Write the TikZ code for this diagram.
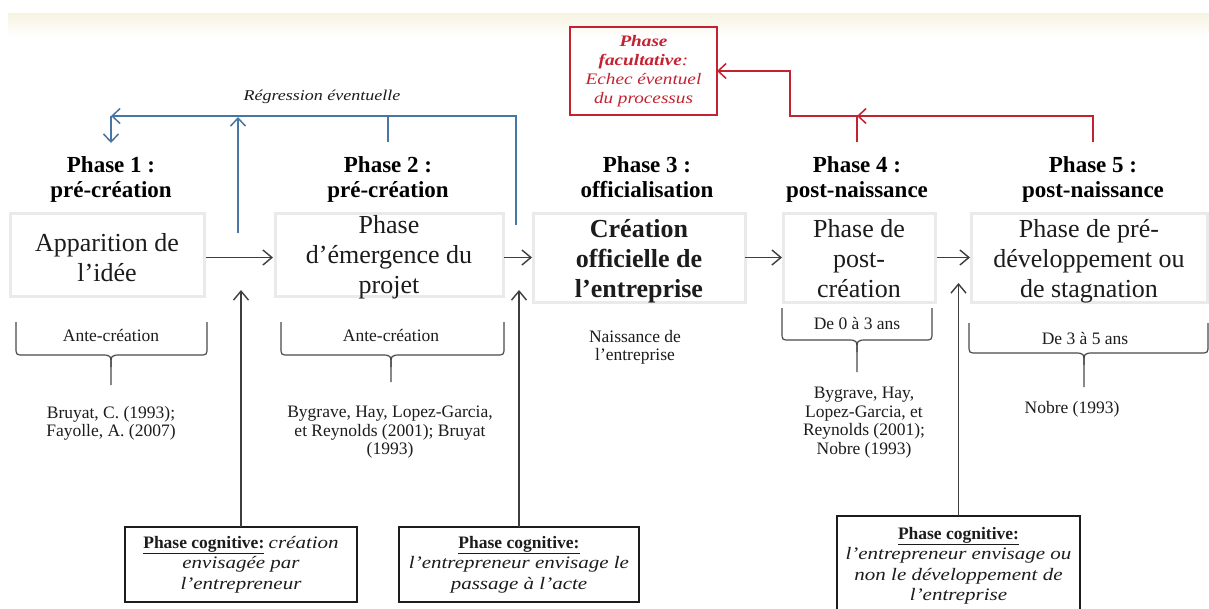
\documentclass[tikz,border=0pt]{standalone}
\usepackage{fontspec}
\setmainfont{Liberation Serif}
\newfontfamily\wideserif[FakeStretch=1.2]{Liberation Serif}
\usetikzlibrary{arrows.meta}

\definecolor{bandcream}{RGB}{247,242,226}
\definecolor{boxgray}{RGB}{234,234,234}
\definecolor{regblue}{RGB}{72,118,164}
\definecolor{failred}{RGB}{196,34,48}
\definecolor{ink}{RGB}{28,28,28}

% open curly bracket under a stage: left x, right x, top y, bar y, centre x, tip y
\newcommand\underbrk[6]{%
  \draw[brk] (#1,#3) -- (#1,{#4-8}) .. controls (#1,#4) .. ({#1+8},#4)
    -- ({#5-10},#4) .. controls (#5,#4) .. (#5,{#4+12}) -- (#5,#6);
  \draw[brk] (#2,#3) -- (#2,{#4-8}) .. controls (#2,#4) .. ({#2-8},#4)
    -- ({#5+10},#4) .. controls (#5,#4) .. (#5,{#4+12});
}

\begin{document}
\begin{tikzpicture}[x=1pt,y=-1pt,
  every node/.style={inner sep=0pt,outer sep=0pt,text=ink},
  phasehead/.style={font=\fontsize{23}{25}\selectfont\bfseries,align=center,text=black},
  stagebox/.style={draw=boxgray,line width=3pt},
  stagetext/.style={align=center,font=\fontsize{26}{30}\selectfont},
  smalltxt/.style={font=\fontsize{17.5}{18.5}\selectfont,align=center},
  bracetxt/.style={font=\fontsize{17.5}{19}\selectfont,align=center},
  cogbox/.style={draw=ink,line width=1.6pt,align=center,
    font=\fontsize{17.5}{20.5}\selectfont},
  flow/.style={draw=ink!85,line width=1.4pt,-{Straight Barb[length=9pt,width=15pt,line width=1.4pt]}},
  brk/.style={draw=ink!80,line width=1.2pt},
  regline/.style={draw=regblue,line width=1.5pt},
  regarrow/.style={regline,-{Straight Barb[length=8pt,width=15pt,line width=1.5pt]}},
  failline/.style={draw=failred,line width=1.5pt},
  failarrow/.style={failline,-{Straight Barb[length=8pt,width=15pt,line width=1.5pt]}}]

\useasboundingbox (0,0) rectangle (1209,608);
\clip (0,0) rectangle (1209,608);
\fill[white] (0,0) rectangle (1209,608);
\shade[top color=bandcream,bottom color=white] (8,13) rectangle (1209,37);

% optional failure phase
\node[draw=failred,line width=1.5pt,minimum width=147pt,minimum height=88pt,
  align=center,text=failred,font=\wideserif\fontsize{16}{19}\selectfont\itshape]
  (fail) at (643.5,71)
  {\strut\textbf{Phase}\\\textbf{facultative}:\\Echec éventuel\\du processus\strut};

% phase headings
\node[phasehead] (h1) at (111,180) {\strut Phase 1 :\\pré-création\strut};
\node[phasehead] (h2) at (388,180) {\strut Phase 2 :\\pré-création\strut};
\node[phasehead] (h3) at (647,180) {\strut Phase 3 :\\officialisation\strut};
\node[phasehead] (h4) at (857,180) {\strut Phase 4 :\\post-naissance\strut};
\node[phasehead] (h5) at (1093,180) {\strut Phase 5 :\\post-naissance\strut};

% stage boxes
\node[stagebox,minimum width=194pt,minimum height=83pt] (b1) at (107,254.5) {};
\node[stagebox,minimum width=228pt,minimum height=83pt] (b2) at (389,254.5) {};
\node[stagebox,minimum width=212pt,minimum height=89pt] (b3) at (639,257.5) {};
\node[stagebox,minimum width=152pt,minimum height=89pt] (b4) at (859,257.5) {};
\node[stagebox,minimum width=236pt,minimum height=89pt] (b5) at (1089,257.5) {};
\node[stagetext] (b1t) at (107,260.5) {\strut Apparition de\\l’idée\strut};
\node[stagetext] (b2t) at (389,257.5) {\strut Phase\\d’émergence du\\projet\strut};
\node[stagetext,font=\fontsize{26}{30}\selectfont\bfseries] (b3t) at (639,261.5)
  {\strut Création\\officielle de\\l’entreprise\strut};
\node[stagetext] (b4t) at (859,261.5) {\strut Phase de\\post-\\création\strut};
\node[stagetext] (b5t) at (1089,261.5) {\strut Phase de pré-\\développement ou\\de stagnation\strut};

% sequence of stages
\draw[flow] ([xshift=2pt]b1.east |- b3.west) -- ([xshift=-2pt]b2.west |- b3.west);
\draw[flow] ([xshift=1pt]b2.east |- b3.west) -- ([xshift=-1pt]b3.west);
\draw[flow] (b3.east) -- ([xshift=-1pt]b4.west);
\draw[flow] ([xshift=2pt]b4.east) -- ([xshift=-1pt]b5.west);

% brackets and their labels
\underbrk{16}{207}{322}{355}{111}{385}
\underbrk{281}{504}{322}{355}{391}{382}
\underbrk{782}{932}{308}{340}{857}{372}
\underbrk{969}{1208}{323}{353}{1084}{387}
\node[bracetxt] (t1) at (111,335) {Ante-création};
\node[bracetxt] (t2) at (391,335) {Ante-création};
\node[bracetxt] (t4) at (857,323) {De 0 à 3 ans};
\node[bracetxt] (t5) at (1085,338) {De 3 à 5 ans};

% references
\node[smalltxt] (r1) at (111,424) {\strut Bruyat, C. (1993);\\Fayolle, A. (2007)\strut};
\node[smalltxt] (r2) at (390,432.5) {\strut Bygrave, Hay, Lopez-Garcia,\\et Reynolds (2001); Bruyat\\(1993)\strut};
\node[smalltxt] (r3) at (635,348) {\strut Naissance de\\l’entreprise\strut};
\node[smalltxt] (r4) at (864,423) {\strut Bygrave, Hay,\\Lopez-Garcia, et\\Reynolds (2001);\\Nobre (1993)\strut};
\node[smalltxt] (r5) at (1072,409) {Nobre (1993)};

% cognitive phases
\node[cogbox,minimum width=232pt,minimum height=75pt] (c1) at (241,564.5)
  {\strut\underline{\textbf{Phase cognitive:}} {\wideserif\itshape création}\\
   {\wideserif\itshape envisagée par}\\{\wideserif\itshape l’entrepreneur}\strut};
\node[cogbox,minimum width=240pt,minimum height=75pt] (c2) at (519,564.5)
  {\strut\underline{\textbf{Phase cognitive:}}\\
   {\wideserif\itshape l’entrepreneur envisage le}\\{\wideserif\itshape passage à l’acte}\strut};
\node[cogbox,minimum width=243pt,minimum height=100pt] (c3) at (958.5,566)
  {\strut\underline{\textbf{Phase cognitive:}}\\
   {\wideserif\itshape l’entrepreneur envisage ou}\\
   {\wideserif\itshape non le développement de}\\{\wideserif\itshape l’entreprise}\strut};

\coordinate (u1) at (241,290);
\coordinate (u2) at (519,290);
\coordinate (u3) at (958.5,283);
\draw[flow] (c1.north) -- (u1);
\draw[flow] (c2.north) -- (u2);
\draw[flow] (c3.north) -- (u3);

% possible regression
\node[font=\wideserif\fontsize{15}{17}\selectfont\itshape] (rg) at (322,97) {Régression éventuelle};
\coordinate (rgL) at (111,116);
\coordinate (rgDown) at (111,143);
\coordinate (rgUpTop) at (238,117);
\coordinate (rgUpBot) at (238,233);
\coordinate (rgStub) at (388,142);
\coordinate (rgR) at (516,225);
\draw[regarrow] (rgR) |- (rgL);
\draw[regarrow] (rgL) -- (rgDown);
\draw[regarrow] (rgUpBot) -- (rgUpTop);
\draw[regline] (rgStub) -- (rgStub |- rgL);

% possible failure
\coordinate (f5) at (1093,142);
\coordinate (f4) at (857,142);
\coordinate (fj) at (857,116);
\coordinate (fk) at (790,116);
\draw[failarrow] (f5) |- (fj);
\draw[failarrow] (f4) -- (fj) -- (fk) |- (fail.east);
\end{tikzpicture}
\end{document}
